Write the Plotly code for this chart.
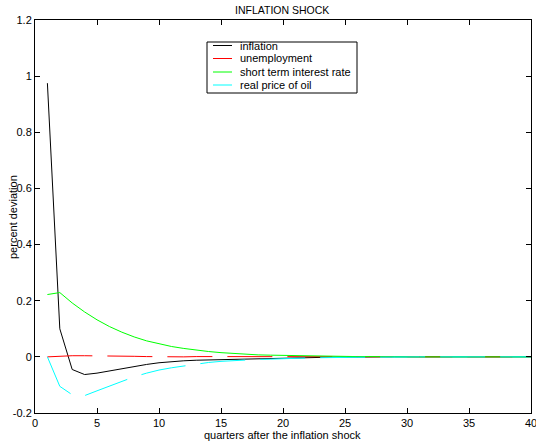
import plotly.graph_objects as go

quarters = list(range(1, 41))

inflation = [0.975, 0.100, -0.045, -0.063, -0.058, -0.050, -0.042, -0.034, -0.027, -0.021,
             -0.017, -0.014, -0.012, -0.011, -0.009, -0.008, -0.006, -0.005, -0.004, -0.003,
             -0.002, -0.002, -0.001, -0.001, -0.001, 0.000, 0.000, 0.000, 0.000, 0.000,
             0.000, 0.000, 0.000, 0.000, 0.000, 0.000, 0.000, 0.000, 0.000, 0.000]
unemployment = [0.000, 0.003, 0.004, 0.004, 0.004, 0.004, 0.003, 0.002, 0.001, 0.000,
                0.000, 0.000, 0.001, 0.001, 0.001, 0.001, 0.001, 0.001, 0.001, 0.001,
                0.000, 0.000, 0.000, 0.000, 0.000, 0.000, 0.000, 0.000, 0.000, 0.000,
                0.000, 0.000, 0.000, 0.000, 0.000, 0.000, 0.000, 0.000, 0.000, 0.000]
interest = [0.222, 0.229, 0.192, 0.160, 0.132, 0.108, 0.088, 0.071, 0.057, 0.046,
            0.037, 0.030, 0.024, 0.019, 0.015, 0.012, 0.009, 0.007, 0.006, 0.005,
            0.004, 0.003, 0.002, 0.002, 0.001, 0.001, 0.001, 0.000, 0.000, 0.000,
            0.000, 0.000, 0.000, 0.000, 0.000, 0.000, 0.000, 0.000, 0.000, 0.000]
oil = [0.000, -0.105, -0.135, -0.138, -0.121, -0.104, -0.087, -0.071, -0.058, -0.047,
       -0.039, -0.032, -0.025, -0.020, -0.016, -0.013, -0.011, -0.009, -0.008, -0.006,
       -0.005, -0.004, -0.003, -0.002, -0.002, -0.001, -0.001, -0.001, 0.000, 0.000,
       0.000, 0.000, 0.000, 0.000, 0.000, 0.000, 0.000, 0.000, 0.000, 0.000]

series_names = ["inflation", "unemployment", "short term interest rate", "real price of oil"]
series_colors = ["#000000", "#ff0000", "#00ff00", "#00ffff"]
series_dashes = ["solid", "45px,15px", "solid", "45px,15px"]
x_ticks = [0, 5, 10, 15, 20, 25, 30, 35, 40]
y_ticks = [-0.2, 0, 0.2, 0.4, 0.6, 0.8, 1.0, 1.2]
y_tick_labels = ["-0.2", "0", "0.2", "0.4", "0.6", "0.8", "1", "1.2"]

FONT = "Arial, Liberation Sans, sans-serif"
W, H = 536, 448
ML, MR, MT, MB = 35, 5, 20, 35
PW, PH = W - ML - MR, H - MT - MB


def px_x(px):
    return (px - ML) / PW


def px_y(py):
    return (H - MB - py) / PH


fig = go.Figure()
for name, vals, col, dash in zip(series_names, [inflation, unemployment, interest, oil],
                                 series_colors, series_dashes):
    fig.add_trace(go.Scatter(x=quarters, y=vals, mode="lines", name=name,
                             line=dict(color=col, width=1, dash=dash), showlegend=False,
                             hoverinfo="skip"))

axis_common = dict(
    showline=True, linecolor="black", linewidth=1, mirror="allticks",
    ticks="inside", ticklen=5, tickcolor="black", tickwidth=1,
    showgrid=False, zeroline=False, automargin=False, ticklabeloverflow="allow",
    tickfont=dict(family=FONT, size=11, color="black"),
)

shapes = []
annotations = []

# legend box
shapes.append(dict(type="rect", xref="paper", yref="paper",
                   x0=px_x(207), x1=px_x(357), y0=px_y(93), y1=px_y(42),
                   line=dict(color="black", width=1), fillcolor="white", layer="above"))
entry_y = [45.5, 58.5, 72, 85]
for name, col, ey in zip(series_names, series_colors, entry_y):
    shapes.append(dict(type="line", xref="paper", yref="paper",
                       x0=px_x(213), x1=px_x(232), y0=px_y(ey), y1=px_y(ey),
                       line=dict(color=col, width=1), layer="above"))
    annotations.append(dict(text=name, xref="paper", yref="paper",
                            x=px_x(238), y=px_y(ey), xanchor="left", yanchor="middle",
                            showarrow=False, font=dict(family=FONT, size=11, color="black")))

# titles
annotations.append(dict(text="INFLATION SHOCK", xref="paper", yref="paper",
                        x=px_x(282), y=px_y(10), xanchor="center", yanchor="middle",
                        showarrow=False, font=dict(family=FONT, size=10.5, color="black")))
annotations.append(dict(text="quarters after the inflation shock", xref="paper", yref="paper",
                        x=px_x(282), y=px_y(434.5), xanchor="center", yanchor="middle",
                        showarrow=False, font=dict(family=FONT, size=11, color="black")))
annotations.append(dict(text="percent deviation", xref="paper", yref="paper",
                        x=px_x(13), y=px_y(217), xanchor="center", yanchor="middle",
                        textangle=-90, showarrow=False,
                        font=dict(family=FONT, size=11, color="black")))

fig.update_layout(
    width=W, height=H,
    margin=dict(l=ML, r=MR, t=MT, b=MB, autoexpand=False),
    paper_bgcolor="white", plot_bgcolor="white",
    font=dict(family=FONT, size=11, color="black"),
    xaxis=dict(range=[0, 40], tickvals=x_ticks, ticktext=[str(v) for v in x_ticks],
               **axis_common),
    yaxis=dict(range=[-0.2, 1.2], tickvals=y_ticks, ticktext=y_tick_labels,
               **axis_common),
    shapes=shapes,
    annotations=annotations,
    showlegend=False,
    hovermode=False,
)

fig.write_html("out.html", config={"displayModeBar": False, "staticPlot": True},
               post_script="document.body.style.margin='0';document.body.style.overflow='hidden';")
